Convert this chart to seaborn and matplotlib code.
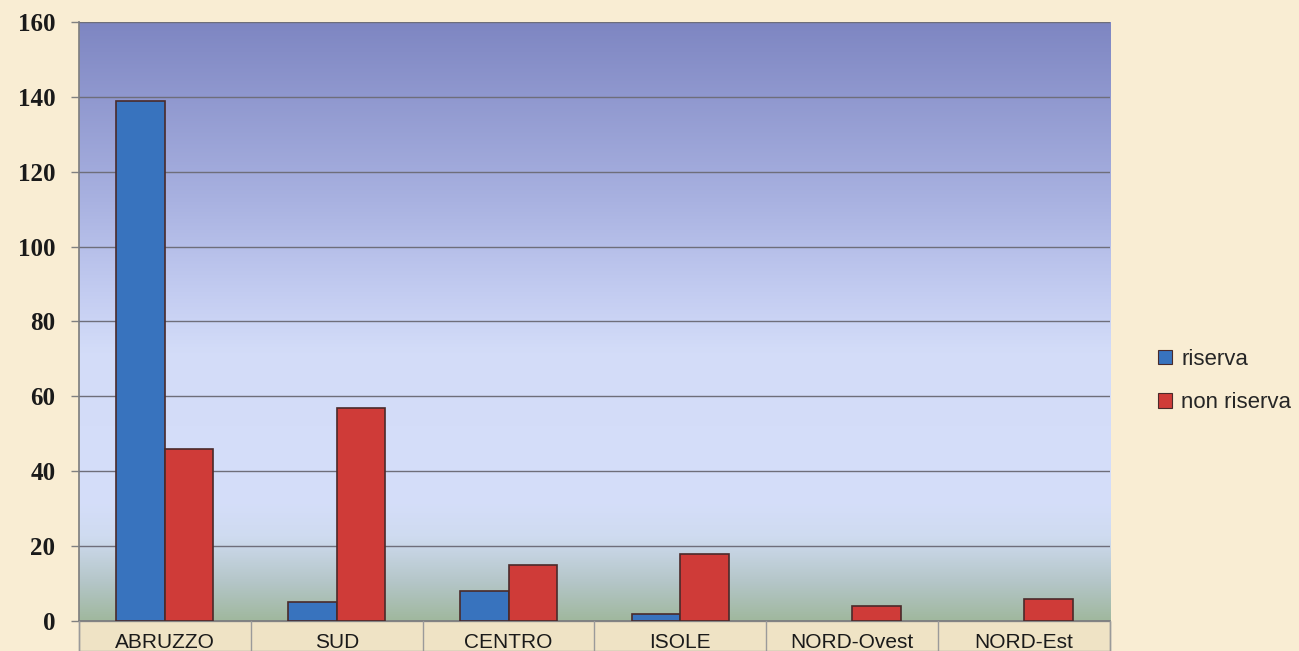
import numpy as np
import pandas as pd
import matplotlib
matplotlib.use('Agg')
import matplotlib.pyplot as plt
from matplotlib.colors import LinearSegmentedColormap
from matplotlib.patches import Rectangle
import seaborn as sns

# -------------------------
# Dati
# -------------------------
regioni     = ['ABRUZZO', 'SUD', 'CENTRO', 'ISOLE', 'NORD-Ovest', 'NORD-Est']
riserva     = [139, 5, 8, 2, 0, 0]
non_riserva = [46, 57, 15, 18, 4, 6]
serie       = ['riserva', 'non riserva']
y_ticks     = [0, 20, 40, 60, 80, 100, 120, 140, 160]

df = pd.DataFrame({
    'regione': regioni * 2,
    'valore': riserva + non_riserva,
    'serie': [serie[0]] * len(regioni) + [serie[1]] * len(regioni),
})

sns.set_theme(style='white')
plt.rcParams['font.family'] = ['Liberation Sans', 'DejaVu Sans']

BG = '#F9EDD3'
fig = plt.figure(figsize=(12.99, 6.51), dpi=100, facecolor=BG)
ax = fig.add_axes([0.0608, 0.0461, 0.7937, 0.9201])
ax.set_facecolor('none')

# sfondo sfumato dell'area del grafico
grad = LinearSegmentedColormap.from_list('bg', [
    (0.00, '#A0B89E'),
    (0.06, '#B3C5C6'),
    (0.14, '#CFDBF0'),
    (0.20, '#D5DEFA'),
    (0.45, '#D3DCF8'),
    (0.55, '#C3CCF1'),
    (0.70, '#A9B2E1'),
    (1.00, '#7E86C2'),
])
ax.imshow(np.linspace(0, 1, 256).reshape(-1, 1), cmap=grad, origin='lower',
          extent=(-0.5, len(regioni) - 0.5, 0, 160), aspect='auto', zorder=0)

sns.barplot(data=df, x='regione', y='valore', hue='serie', order=regioni,
            hue_order=serie, palette=['#3873BE', '#CF3B38'], width=0.565,
            saturation=1, edgecolor='#4A2A2A', linewidth=1.2, ax=ax, zorder=3,
            legend=True)

# niente bordo per le barre a zero
for p in ax.patches:
    if p.get_height() == 0:
        p.set_linewidth(0)

ax.set_xlim(-0.5, len(regioni) - 0.5)
ax.set_ylim(0, 160)
ax.set_yticks(y_ticks)
ax.yaxis.grid(True, color='#6E6E7A', linewidth=1.0)
ax.set_axisbelow(False)
for ln in ax.get_ygridlines():
    ln.set_zorder(1)
ax.set_xlabel('')
ax.set_ylabel('')

for s in ['top', 'right']:
    ax.spines[s].set_visible(False)
ax.spines['left'].set_color('#808080')
ax.spines['bottom'].set_color('#808080')

ax.tick_params(axis='y', which='both', left=True, length=6, width=1,
               color='#808080', pad=11)
ax.tick_params(axis='x', bottom=False, pad=3)
for lab in ax.get_yticklabels():
    lab.set_fontfamily(['Liberation Serif', 'DejaVu Serif'])
    lab.set_fontweight('bold')
    lab.set_fontsize(18)
    lab.set_color('#1A1A1A')
for lab in ax.get_xticklabels():
    lab.set_fontsize(15)
    lab.set_color('#1A1A1A')

# riquadro etichette categorie
box = Rectangle((0.0608, 0.0), 0.7937, 0.0461, transform=fig.transFigure,
                facecolor='#EFE3C5', edgecolor='#9A9A9A', linewidth=1,
                zorder=-1)
fig.patches.append(box)
for i in range(len(regioni) + 1):
    xf = 0.0608 + 0.7937 * i / len(regioni)
    fig.add_artist(plt.Line2D([xf, xf], [0.0, 0.0461], color='#9A9A9A',
                              linewidth=1))

leg = ax.legend(loc='center left', bbox_to_anchor=(1.0, 0.5), frameon=False,
                prop={'size': 16}, handlelength=0.65, handleheight=0.65,
                labelspacing=1.0, handletextpad=0.4)
leg.set_bbox_to_anchor((0.876, 0.415), transform=fig.transFigure)
for h in leg.legend_handles:
    h.set_edgecolor('#4A2A2A')
    h.set_linewidth(0.8)

fig.savefig('out.png', dpi=100, facecolor=BG)
